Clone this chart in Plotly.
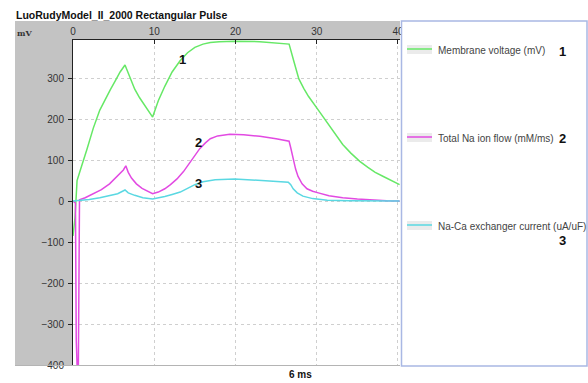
import plotly.graph_objects as go

# Time axis (ms) and traces
t_vm = [0, 0.25, 0.5, 0.8, 1.1, 1.7, 2.5, 3.3, 4.0, 4.6, 5.2, 5.8, 6.4,
        7.0, 7.6, 8.2, 9.0, 9.8, 10.5, 11.3, 12.2, 13.2, 14.1, 15.0, 16.0, 16.9, 18.0,
        19.9, 23.0, 26.6, 27.2, 27.8, 28.4, 29.0, 30.2, 31.6, 33.2, 34.2, 35.3, 36.3,
        37.2, 38.2, 39.0, 40.2]
membrane_voltage = [-85, -40, 50, 72, 88, 125, 178, 222, 250, 272, 293, 315, 332,
                    300, 273, 252, 227, 205, 245, 280, 315, 343, 362, 375, 383, 387, 389,
                    390, 389, 383, 340, 298, 275, 255, 222, 182, 138, 117, 97, 82,
                    70, 60, 52, 40]

t_na = [0, 0.3, 0.4, 0.55, 0.65, 0.8, 1.5, 2.5, 3.5, 4.5, 5.2, 5.8, 6.2, 6.5,
        6.8, 7.2, 7.8, 8.5, 9.2, 9.8, 10.5, 11.3, 12.0, 12.8, 13.6, 14.4, 15.0, 15.6,
        16.3, 16.9, 17.8, 19.3, 21.0, 23.0, 25.0, 26.6, 26.8, 27.1, 27.4, 27.7, 28.2,
        28.8, 29.5, 30.2, 31.5, 33.2, 35.0, 38.6, 40.2]
na_flow = [0, -5, -340, -430, -430, 3, 8, 17, 28, 42, 55, 68, 76, 86,
           70, 56, 42, 31, 23, 18, 22, 30, 40, 54, 72, 95, 112, 128,
           142, 152, 159, 163, 162, 158, 152, 146, 130, 102, 78, 60, 42,
           30, 24, 20, 13, 8, 5, 1, 0]

t_naca = [0, 0.9, 2.0, 3.3, 4.5, 5.5, 6.4, 6.8, 7.6, 8.6, 9.8, 10.5, 11.3, 12.2,
          13.2, 14.1, 15.0, 16.0, 17.5, 19.9, 23.0, 26.5, 26.8, 27.1, 27.6, 28.3,
          29.5, 31.3, 34.0, 40.2]
naca_current = [0, 1, 4, 8, 13, 18, 27, 20, 14, 8, 5, 7, 11, 16,
                22, 31, 40, 47, 52, 54, 51, 46, 40, 30, 20, 12,
                6, 2, 1, 0]

series_names = ["Membrane voltage (mV)", "Total Na ion flow (mM/ms)", "Na-Ca exchanger current (uA/uF)"]
series_tags = ["1", "2", "3"]
series_colors = ["#66e866", "#e24ae2", "#5ad8e2"]

x_ticks = [0, 10, 20, 30, 40]
y_ticks = [300, 200, 100, 0, -100, -200, -300, -400]

# curve tag positions (time, value)
tag_pos = [(13.5, 346), (15.4, 144), (15.5, 44)]

W, H = 588, 383
L, R, T, B = 73, 188, 40, 18
PW, PH = W - L - R, H - T - B


def px(x):
    return (x - L) / PW


def py(y):
    return (H - B - y) / PH


FONT = "Arial, Liberation Sans, sans-serif"

fig = go.Figure()
for tx, ty, name, col in zip([t_vm, t_na, t_naca], [membrane_voltage, na_flow, naca_current],
                             series_names, series_colors):
    fig.add_trace(go.Scatter(x=tx, y=ty, mode="lines", name=name,
                             line=dict(color=col, width=1.5), showlegend=False))

shapes = [
    # gray frame around the plot area
    dict(type="rect", xref="paper", yref="paper", x0=px(15), x1=0, y0=py(366), y1=py(21),
         fillcolor="#c3c3c3", line=dict(width=0), layer="below"),
    dict(type="rect", xref="paper", yref="paper", x0=0, x1=px(400), y0=1, y1=py(21),
         fillcolor="#c3c3c3", line=dict(width=0), layer="below"),
    dict(type="line", xref="paper", yref="paper", x0=px(15), x1=px(400), y0=py(365.5), y1=py(365.5),
         line=dict(color="#b4b4b4", width=1)),
    # legend panel
    dict(type="rect", xref="paper", yref="paper", x0=px(401.5), x1=px(587), y0=py(366), y1=py(21),
         fillcolor="white", line=dict(color="#a9b8e4", width=1.5)),
]

annotations = [
    dict(text="<b>LuoRudyModel_II_2000 Rectangular Pulse</b>", x=px(14), y=py(15), xref="paper",
         yref="paper", xanchor="left", yanchor="middle", showarrow=False,
         font=dict(family=FONT, size=10.5, color="#111")),
    dict(text="<b>mV</b>", x=px(15), y=py(33), xref="paper", yref="paper", xanchor="left",
         yanchor="middle", showarrow=False, font=dict(family="DejaVu Serif, serif", size=8, color="#333")),
    dict(text="<b>6 ms</b>", x=px(300), y=py(375), xref="paper", yref="paper", xanchor="center",
         yanchor="middle", showarrow=False, font=dict(family=FONT, size=10, color="#111")),
]

for (tx, ty), tag in zip(tag_pos, series_tags):
    annotations.append(dict(text="<b>%s</b>" % tag, x=tx, y=ty, xref="x", yref="y", showarrow=False,
                            xanchor="center", yanchor="middle",
                            font=dict(family=FONT, size=13, color="#111")))

# legend entries: swatch, label, tag
leg_rows = [(49, 51), (137, 138), (225, 240)]
for (ly, tag_y), name, tag, col in zip(leg_rows, series_names, series_tags, series_colors):
    shapes.append(dict(type="rect", xref="paper", yref="paper", x0=px(407), x1=px(432),
                       y0=py(ly + 5), y1=py(ly - 4), fillcolor="#ebebeb", line=dict(width=0)))
    shapes.append(dict(type="line", xref="paper", yref="paper", x0=px(407), x1=px(432),
                       y0=py(ly), y1=py(ly), line=dict(color=col, width=1.5)))
    annotations.append(dict(text=name, x=px(436), y=py(ly + 1), xref="paper", yref="paper",
                            xanchor="left", yanchor="middle", showarrow=False,
                            font=dict(family=FONT, size=10, color="#444")))
    annotations.append(dict(text="<b>%s</b>" % tag, x=px(557), y=py(tag_y), xref="paper", yref="paper",
                            xanchor="left", yanchor="middle", showarrow=False,
                            font=dict(family=FONT, size=13, color="#111")))

fig.update_layout(
    width=W, height=H,
    margin=dict(l=L, r=R, t=T, b=B, pad=0),
    paper_bgcolor="white", plot_bgcolor="white",
    shapes=shapes, annotations=annotations,
    showlegend=False,
    xaxis=dict(side="top", range=[0, 40.25], tickvals=x_ticks, ticks="inside", ticklen=4,
               tickcolor="#222", showline=True, linecolor="#222", linewidth=1,
               showgrid=True, gridcolor="#cfcfcf", griddash="dot", gridwidth=1, zeroline=False,
               tickfont=dict(family=FONT, size=10, color="#333")),
    yaxis=dict(range=[-400, 393], tickvals=y_ticks, ticks="outside", ticklen=4,
               tickcolor="#222", showline=True, linecolor="#222", linewidth=1,
               showgrid=True, gridcolor="#cfcfcf", griddash="dot", gridwidth=1, zeroline=False,
               tickfont=dict(family=FONT, size=10, color="#333"), ticklabelstandoff=2),
)

fig.write_html("out.html")
